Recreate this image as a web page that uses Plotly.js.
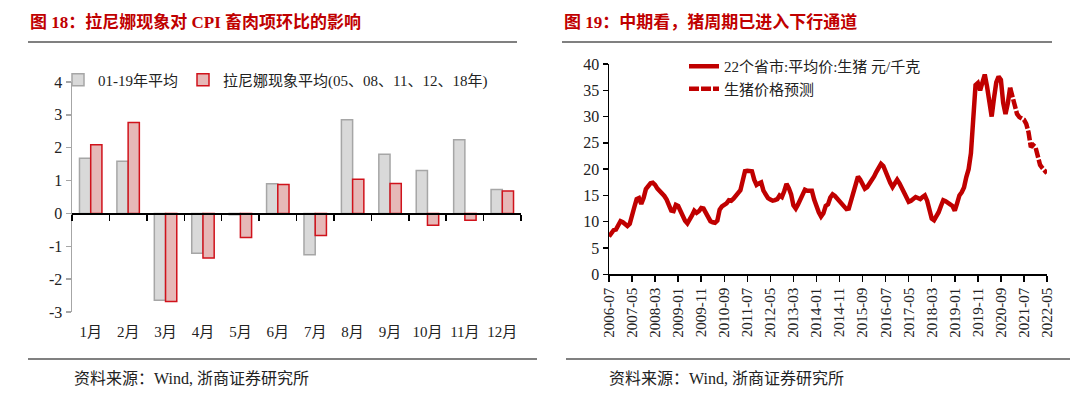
<!DOCTYPE html>
<html>
<head>
<meta charset="utf-8">
<script src="https://cdn.plot.ly/plotly-3.0.1.min.js"></script>
<style>
html,body{margin:0;padding:0;background:#fff;}
#chart{width:1080px;height:396px;}
</style>
</head>
<body>
<div id="chart"></div>
<script>
// ---------- Left chart data ----------
const monthCats = ['1月','2月','3月','4月','5月','6月','7月','8月','9月','10月','11月','12月'];
const avg0119 = [1.68, 1.59, -2.64, -1.21, -0.04, 0.90, -1.26, 2.85, 1.80, 1.31, 2.24, 0.73];
const laNinaAvg = [2.09, 2.77, -2.68, -1.36, -0.73, 0.88, -0.67, 1.04, 0.91, -0.36, -0.21, 0.68];
const leftYTicks = [-3, -2, -1, 0, 1, 2, 3, 4];
const leftYTickText = ['-3', '-2', '-1', '0', '1', '2', '3', '4'];

// ---------- Right chart data ----------
const startYear = 2006, startMonth = 7, nMonths = 191;
const hogPrice = [
  7.2, 7.9, 8.4, 8.5, 9.5, 10.1, 9.9, 9.4, 9.2, 9.6,
  10.9, 12.8, 14.3, 14.5, 13.4, 14.5, 16.2, 16.9, 17.3, 17.4,
  17.0, 16.3, 15.9, 15.5, 14.9, 14.2, 13.0, 12.1, 12.0, 13.2,
  13.0, 12.0, 11.0, 10.2, 9.7, 10.3, 11.2, 12.1, 11.7, 12.0,
  12.6, 12.5, 11.7, 10.8, 10.1, 9.9, 9.8, 10.2, 12.3, 12.9,
  13.2, 13.5, 14.1, 14.0, 14.4, 14.9, 15.2, 16.0, 17.8, 19.6,
  19.7, 19.7, 19.6, 18.0, 17.0, 17.3, 17.5, 15.9, 15.0, 14.5,
  14.2, 14.0, 14.1, 14.3, 15.0, 14.7, 15.8, 17.2, 16.4, 15.2,
  13.1, 12.5, 13.3, 14.3, 15.4, 16.1, 15.9, 15.9, 15.9, 14.2,
  12.8, 11.8, 11.0, 11.6, 13.0, 13.3, 14.6, 15.2, 14.9, 14.4,
  13.9, 13.5, 13.2, 12.4, 12.5, 14.0, 15.4, 17.0, 18.6, 18.0,
  17.2, 16.3, 16.6, 17.2, 18.0, 18.6, 19.5, 20.3, 21.0, 20.6,
  19.4, 18.6, 17.4, 16.6, 17.2, 18.0, 17.3, 16.4, 15.6, 14.5,
  13.8, 14.0, 14.3, 14.7, 14.5, 14.3, 14.7, 15.0, 14.0, 12.0,
  10.6, 10.3, 11.0, 11.8, 13.0, 14.1, 13.9, 13.7, 13.3, 13.0,
  12.1, 13.5, 15.0, 15.6, 16.5, 18.5, 20.0, 23.0, 29.0, 36.0,
  36.4, 35.0, 36.5, 38.0, 35.7, 33.0, 30.0, 33.5, 36.5, 37.6,
  37.0, 32.6, 30.5, 32.5, 35.5
];
const hogForecast = [
  35.5, 34.0, 32.0, 30.5, 29.9, 29.6, 29.4, 28.6, 27.0, 24.2,
  24.6, 24.2, 22.5, 20.8, 20.2, 19.8, 19.2
];
const rightTickLabels = ['2006-07','2007-05','2008-03','2009-01','2009-11','2010-09','2011-07',
  '2012-05','2013-03','2014-01','2014-11','2015-09','2016-07','2017-05','2018-03','2019-01',
  '2019-11','2020-09','2021-07','2022-05'];
const rightYTicks = [0, 5, 10, 15, 20, 25, 30, 35, 40];

// month category labels
const months = [];
for (let i = 0; i < nMonths; i++) {
  const m0 = startMonth - 1 + i;
  const y = startYear + Math.floor(m0 / 12);
  const m = (m0 % 12) + 1;
  months.push(y + '-' + (m < 10 ? '0' + m : '' + m));
}
const actualX = months.slice(0, hogPrice.length);
const forecastX = months.slice(hogPrice.length - 1, hogPrice.length - 1 + hogForecast.length);

// ---------- Layout geometry ----------
const W = 1080, H = 396;
const px = v => v / W;
const py = v => 1 - v / H;
const L = {x0: 72, x1: 521, yTop: 82, yBot: 312};
const R = {x0: 609, x1: 1047, yTop: 64, yBot: 274.3};
const leftYMin = -3, leftYMax = 4;
const zeroPos = py(L.yBot) + (0 - leftYMin) / (leftYMax - leftYMin) * (py(L.yTop) - py(L.yBot));

const serif = '"Liberation Serif", "Noto Sans CJK SC", serif';
const red = '#c00000';

const traces = [
  {type: 'bar', name: '01-19年平均', x: monthCats, y: avg0119, xaxis: 'x', yaxis: 'y',
   marker: {color: '#d9d9d9', line: {color: '#a6a6a6', width: 1.5}}, legend: 'legend'},
  {type: 'bar', name: '拉尼娜现象平均(05、08、11、12、18年)', x: monthCats, y: laNinaAvg, xaxis: 'x', yaxis: 'y',
   marker: {color: '#e6b8b7', line: {color: '#d0121b', width: 1.5}}, legend: 'legend'},
  {type: 'scatter', mode: 'lines', x: monthCats, y: monthCats.map(() => null), xaxis: 'x3', yaxis: 'y',
   showlegend: false, hoverinfo: 'skip'},
  {type: 'scatter', mode: 'lines', name: '22个省市:平均价:生猪 元/千克', x: actualX, y: hogPrice,
   xaxis: 'x2', yaxis: 'y2', line: {color: red, width: 4.5}, legend: 'legend2'},
  {type: 'scatter', mode: 'lines', name: '生猪价格预测', x: forecastX, y: hogForecast,
   xaxis: 'x2', yaxis: 'y2', line: {color: red, width: 4.5, dash: '10px,2px'}, legend: 'legend2'}
];

const layout = {
  width: W, height: H,
  margin: {l: 0, r: 0, t: 0, b: 0},
  paper_bgcolor: '#fff', plot_bgcolor: 'rgba(0,0,0,0)',
  font: {family: serif, size: 15, color: '#222'},
  barmode: 'group', bargap: 0.4, bargroupgap: 0,
  showlegend: true,
  xaxis: {domain: [px(L.x0), px(L.x1)], anchor: 'y', type: 'category',
    categoryorder: 'array', categoryarray: monthCats,
    showline: false, showgrid: false, zeroline: false,
    ticks: 'outside', ticklen: 6, tickcolor: 'rgba(0,0,0,0)',
    tickfont: {family: serif, size: 15, color: '#222'}},
  xaxis3: {domain: [px(L.x0), px(L.x1)], anchor: 'free', position: zeroPos, overlaying: 'x',
    type: 'category', categoryorder: 'array', categoryarray: monthCats,
    range: [-0.5, 11.5],
    showline: true, linecolor: '#000', linewidth: 1.5, showgrid: false, zeroline: false,
    ticks: 'outside', tickson: 'boundaries', ticklen: 6, tickwidth: 1.5, tickcolor: '#000',
    showticklabels: false},
  yaxis: {domain: [py(L.yBot), py(L.yTop)], anchor: 'x', range: [leftYMin, leftYMax],
    tickvals: leftYTicks, ticktext: leftYTickText, showline: true, linecolor: '#a6a6a6', linewidth: 1.5,
    ticks: 'outside', ticklen: 5, tickwidth: 1.5, tickcolor: '#a6a6a6',
    showgrid: false, zeroline: false,
    tickfont: {family: serif, size: 16, color: '#222'}},
  xaxis2: {domain: [px(R.x0), px(R.x1)], anchor: 'y2', type: 'category',
    range: [0, nMonths - 1],
    tickvals: rightTickLabels, ticktext: rightTickLabels, tickangle: -90,
    showline: true, linecolor: '#000', linewidth: 1.5, showgrid: false, zeroline: false,
    ticks: 'outside', ticklen: 6, tickwidth: 1.5, tickcolor: '#000',
    tickfont: {family: serif, size: 15, color: '#222'}},
  yaxis2: {domain: [py(R.yBot), py(R.yTop)], anchor: 'x2', range: [0, 40],
    tickvals: rightYTicks, showline: true, linecolor: '#000', linewidth: 1.5,
    ticks: 'outside', ticklen: 5, tickwidth: 1.5, tickcolor: '#000',
    showgrid: false, zeroline: false,
    tickfont: {family: serif, size: 16, color: '#222'}},
  legend: {orientation: 'h', x: px(58), y: py(80), xanchor: 'left', yanchor: 'middle',
    bgcolor: 'rgba(0,0,0,0)', font: {family: serif, size: 15, color: '#222'},
    traceorder: 'normal', itemclick: false},
  legend2: {orientation: 'v', x: px(684), y: py(50), xanchor: 'left', yanchor: 'top',
    bgcolor: 'rgba(0,0,0,0)', font: {family: serif, size: 15, color: '#222'},
    traceorder: 'normal', tracegroupgap: 0},
  annotations: [
    {text: '<b>图 18：拉尼娜现象对 CPI 畜肉项环比的影响</b>', xref: 'paper', yref: 'paper',
     x: px(28), y: py(22), xanchor: 'left', yanchor: 'middle', showarrow: false,
     font: {family: serif, size: 17, color: red}},
    {text: '<b>图 19：中期看，猪周期已进入下行通道</b>', xref: 'paper', yref: 'paper',
     x: px(562), y: py(22), xanchor: 'left', yanchor: 'middle', showarrow: false,
     font: {family: serif, size: 17, color: red}},
    {text: '资料来源：Wind, 浙商证券研究所', xref: 'paper', yref: 'paper',
     x: px(72), y: py(378), xanchor: 'left', yanchor: 'middle', showarrow: false,
     font: {family: serif, size: 16, color: '#222'}},
    {text: '资料来源：Wind, 浙商证券研究所', xref: 'paper', yref: 'paper',
     x: px(607), y: py(378), xanchor: 'left', yanchor: 'middle', showarrow: false,
     font: {family: serif, size: 16, color: '#222'}}
  ],
  shapes: [
    {type: 'line', xref: 'paper', yref: 'paper', x0: px(28), x1: px(517), y0: py(42), y1: py(42),
     line: {color: '#808080', width: 2}},
    {type: 'line', xref: 'paper', yref: 'paper', x0: px(562), x1: px(1052), y0: py(42), y1: py(42),
     line: {color: '#808080', width: 2}},
    {type: 'line', xref: 'paper', yref: 'paper', x0: px(28), x1: px(537), y0: py(359), y1: py(359),
     line: {color: '#808080', width: 2}},
    {type: 'line', xref: 'paper', yref: 'paper', x0: px(566), x1: px(1070), y0: py(359), y1: py(359),
     line: {color: '#808080', width: 2}}
  ]
};

Plotly.newPlot('chart', traces, layout, {displayModeBar: false, staticPlot: true});
</script>
</body>
</html>
